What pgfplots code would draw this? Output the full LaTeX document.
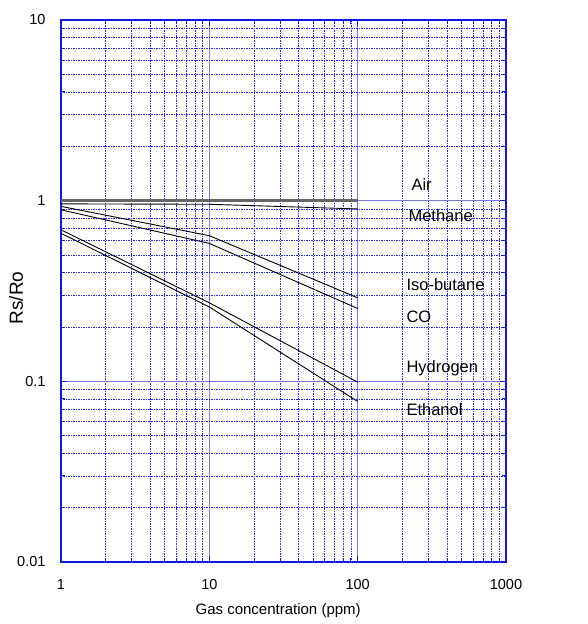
\documentclass[border=0pt]{standalone}
\usepackage{fontspec}
\setmainfont{Liberation Sans}
\usepackage{pgfplots}
\pgfplotsset{compat=1.18}
\definecolor{axblue}{RGB}{20,20,220}
\definecolor{majblue}{RGB}{120,120,235}
\definecolor{minblue}{RGB}{40,40,230}
\begin{document}
\begin{tikzpicture}[x=1pt,y=1pt]
\begin{axis}[
  at={(0,0)}, anchor=south west,
  scale only axis, width=445pt, height=542pt,
  xmode=log, ymode=log,
  xmin=1, xmax=1000, ymin=0.01, ymax=10,
  xtick={1,10,100,1000}, xticklabels={1,10,100,1000},
  ytick={0.01,0.1,1,10}, yticklabels={0.01,0.1,1,10},
  /pgf/number format/assume math mode=true,
  tick label style={font=\fontsize{14.5}{16}\selectfont, text=black},
  xticklabel style={yshift=-14pt},
  yticklabel style={xshift=-12pt},
  xlabel={Gas concentration (ppm)},
  ylabel={Rs/Ro},
  xlabel style={font=\fontsize{15}{17}\selectfont, at={(axis description cs:0.488,-0.090)}, anchor=center},
  ylabel style={font=\fontsize{19}{21}\selectfont, at={(axis description cs:-0.101,0.487)}, anchor=center},
  axis line style={axblue, line width=1.5pt},
  tick style={axblue, line width=0.8pt},
  major tick length=6pt, minor tick length=4pt,
  tick align=inside,
  grid=both,
  major grid style={majblue, line width=1.4pt},
  minor grid style={minblue, line width=0.6pt, dash pattern=on 1.5pt off 1pt},
  clip=false,
]
\addplot[draw=black!60, line width=2.8pt] coordinates {(1,1) (100,1)};
\addplot[black, line width=0.9pt] coordinates {(1,0.96) (10,0.955) (100,0.90)};
\addplot[black, line width=0.9pt] coordinates {(1,0.93) (10,0.64) (100,0.29)};
\addplot[black, line width=0.9pt] coordinates {(1,0.89) (10,0.58) (100,0.253)};
\addplot[black, line width=0.9pt] coordinates {(1,0.69) (10,0.272) (100,0.099)};
\addplot[black, line width=0.9pt] coordinates {(1,0.66) (10,0.258) (100,0.0774)};
\end{axis}
\begin{scope}[font=\fontsize{16.5}{18}\selectfont]
\node[anchor=west] at (347pt,377pt) {Air};
\node[anchor=west] at (344pt,346pt) {Methane};
\node[anchor=west] at (342pt,277pt) {Iso-butane};
\node[anchor=west] at (342pt,245pt) {CO};
\node[anchor=west] at (342pt,194pt) {Hydrogen};
\node[anchor=west] at (342pt,152pt) {Ethanol};
\end{scope}
\path[use as bounding box] (-61pt,-62pt) rectangle (526pt,562pt);
\end{tikzpicture}
\end{document}
